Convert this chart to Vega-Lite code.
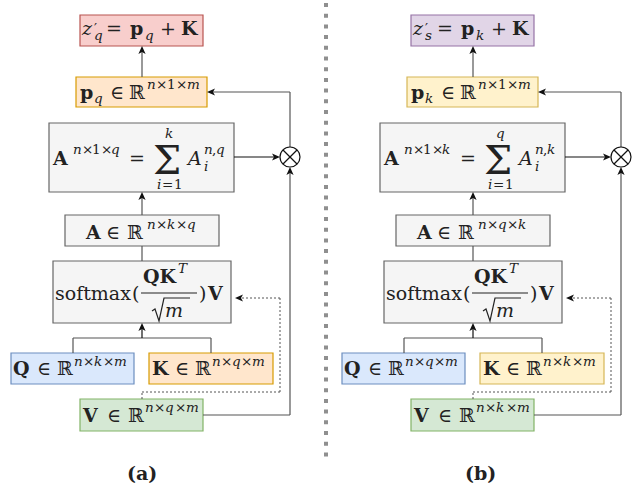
{
  "$schema": "https://vega.github.io/schema/vega-lite/v6.json",
  "width": 639,
  "height": 491,
  "padding": 0,
  "autosize": {"type": "fit", "contains": "padding"},
  "background": "white",
  "config": {"view": {"stroke": null}},
  "datasets": {
    "boxes": [
      {"x": 80, "x2": 203, "y": 15, "y2": 46, "c": "red"},
      {"x": 76, "x2": 207, "y": 77, "y2": 107, "c": "orange"},
      {"x": 49, "x2": 234, "y": 123, "y2": 192, "c": "gray"},
      {"x": 65, "x2": 219, "y": 215, "y2": 246, "c": "gray"},
      {"x": 53, "x2": 231, "y": 261, "y2": 323, "c": "gray"},
      {"x": 11, "x2": 134, "y": 353, "y2": 384, "c": "blue"},
      {"x": 149, "x2": 273, "y": 353, "y2": 384, "c": "orange"},
      {"x": 80, "x2": 203, "y": 399, "y2": 431, "c": "green"},
      {"x": 411, "x2": 534, "y": 15, "y2": 46, "c": "purple"},
      {"x": 407, "x2": 538, "y": 77, "y2": 107, "c": "yellow"},
      {"x": 380, "x2": 565, "y": 123, "y2": 192, "c": "gray"},
      {"x": 396, "x2": 550, "y": 215, "y2": 246, "c": "gray"},
      {"x": 384, "x2": 562, "y": 261, "y2": 323, "c": "gray"},
      {"x": 342, "x2": 465, "y": 353, "y2": 384, "c": "blue"},
      {"x": 480, "x2": 604, "y": 353, "y2": 384, "c": "yellow"},
      {"x": 411, "x2": 534, "y": 399, "y2": 431, "c": "green"}
    ],
    "segs": [
      {"x": 326, "y": 3, "x2": 326, "y2": 461, "g": "sep", "tone": "sep"},
      {"x": 142, "y": 77, "x2": 142, "y2": 48, "g": "a", "tone": "line"},
      {"x": 142, "y": 215, "x2": 142, "y2": 194, "g": "a", "tone": "line"},
      {"x": 142, "y": 246, "x2": 142, "y2": 261, "g": "a", "tone": "line"},
      {"x": 73, "y": 353, "x2": 73, "y2": 338, "g": "a", "tone": "line"},
      {"x": 73, "y": 338, "x2": 211, "y2": 338, "g": "a", "tone": "line"},
      {"x": 211, "y": 338, "x2": 211, "y2": 353, "g": "a", "tone": "line"},
      {"x": 142, "y": 338, "x2": 142, "y2": 325, "g": "a", "tone": "blk"},
      {"x": 234, "y": 157, "x2": 278, "y2": 157, "g": "a", "tone": "blk"},
      {"x": 290, "y": 147, "x2": 290, "y2": 92, "g": "a", "tone": "line"},
      {"x": 290, "y": 92, "x2": 209, "y2": 92, "g": "a", "tone": "line"},
      {"x": 203, "y": 415, "x2": 290, "y2": 415, "g": "a", "tone": "line"},
      {"x": 290, "y": 415, "x2": 290, "y2": 169, "g": "a", "tone": "line"},
      {"x": 142, "y": 399, "x2": 142, "y2": 392, "g": "d", "tone": "line"},
      {"x": 142, "y": 392, "x2": 280, "y2": 392, "g": "d", "tone": "line"},
      {"x": 280, "y": 392, "x2": 280, "y2": 298, "g": "d", "tone": "line"},
      {"x": 280, "y": 298, "x2": 237, "y2": 298, "g": "d", "tone": "line"},
      {"x": 283, "y": 150, "x2": 297, "y2": 164, "g": "c", "tone": "blk"},
      {"x": 297, "y": 150, "x2": 283, "y2": 164, "g": "c", "tone": "blk"},
      {"x": 141, "y": 293, "x2": 197, "y2": 293, "g": "c", "tone": "txt"},
      {"x": 473, "y": 77, "x2": 473, "y2": 48, "g": "a", "tone": "line"},
      {"x": 473, "y": 215, "x2": 473, "y2": 194, "g": "a", "tone": "line"},
      {"x": 473, "y": 246, "x2": 473, "y2": 261, "g": "a", "tone": "line"},
      {"x": 404, "y": 353, "x2": 404, "y2": 338, "g": "a", "tone": "line"},
      {"x": 404, "y": 338, "x2": 542, "y2": 338, "g": "a", "tone": "line"},
      {"x": 542, "y": 338, "x2": 542, "y2": 353, "g": "a", "tone": "line"},
      {"x": 473, "y": 338, "x2": 473, "y2": 325, "g": "a", "tone": "blk"},
      {"x": 565, "y": 157, "x2": 609, "y2": 157, "g": "a", "tone": "blk"},
      {"x": 621, "y": 147, "x2": 621, "y2": 92, "g": "a", "tone": "line"},
      {"x": 621, "y": 92, "x2": 540, "y2": 92, "g": "a", "tone": "line"},
      {"x": 534, "y": 415, "x2": 621, "y2": 415, "g": "a", "tone": "line"},
      {"x": 621, "y": 415, "x2": 621, "y2": 169, "g": "a", "tone": "line"},
      {"x": 473, "y": 399, "x2": 473, "y2": 392, "g": "d", "tone": "line"},
      {"x": 473, "y": 392, "x2": 611, "y2": 392, "g": "d", "tone": "line"},
      {"x": 611, "y": 392, "x2": 611, "y2": 298, "g": "d", "tone": "line"},
      {"x": 611, "y": 298, "x2": 568, "y2": 298, "g": "d", "tone": "line"},
      {"x": 614, "y": 150, "x2": 628, "y2": 164, "g": "c", "tone": "blk"},
      {"x": 628, "y": 150, "x2": 614, "y2": 164, "g": "c", "tone": "blk"},
      {"x": 472, "y": 293, "x2": 528, "y2": 293, "g": "c", "tone": "txt"}
    ],
    "roots": [
      {"id": "L", "o": 1, "x": 152, "y": 311},
      {"id": "L", "o": 2, "x": 155, "y": 309},
      {"id": "L", "o": 3, "x": 159, "y": 321},
      {"id": "L", "o": 4, "x": 164, "y": 298},
      {"id": "L", "o": 5, "x": 190, "y": 298},
      {"id": "R", "o": 1, "x": 483, "y": 311},
      {"id": "R", "o": 2, "x": 486, "y": 309},
      {"id": "R", "o": 3, "x": 490, "y": 321},
      {"id": "R", "o": 4, "x": 495, "y": 298},
      {"id": "R", "o": 5, "x": 521, "y": 298}
    ],
    "rings": [
      {"x": 290, "y": 157},
      {"x": 621, "y": 157}
    ],
    "heads": [
      {"x": 142, "y": 46, "dir": "up"},
      {"x": 142, "y": 192, "dir": "up"},
      {"x": 142, "y": 323, "dir": "up"},
      {"x": 280, "y": 157, "dir": "right"},
      {"x": 207, "y": 92, "dir": "left"},
      {"x": 290, "y": 167, "dir": "up"},
      {"x": 235, "y": 298, "dir": "left"},
      {"x": 473, "y": 46, "dir": "up"},
      {"x": 473, "y": 192, "dir": "up"},
      {"x": 473, "y": 323, "dir": "up"},
      {"x": 611, "y": 157, "dir": "right"},
      {"x": 538, "y": 92, "dir": "left"},
      {"x": 621, "y": 167, "dir": "up"},
      {"x": 566, "y": 298, "dir": "left"}
    ],
    "tx": [
      {"t": "z", "x": 82, "y": 35, "k": "v", "l": "m"},
      {"t": "′", "x": 94, "y": 33, "k": "s", "l": "u"},
      {"t": "q", "x": 94, "y": 40, "k": "v", "l": "u"},
      {"t": "=", "x": 106, "y": 35, "k": "s", "l": "m"},
      {"t": "p", "x": 130, "y": 35, "k": "b", "l": "m"},
      {"t": "q", "x": 145, "y": 40, "k": "v", "l": "u"},
      {"t": "+", "x": 160, "y": 35, "k": "s", "l": "m"},
      {"t": "K", "x": 181, "y": 35, "k": "b", "l": "m"},

      {"t": "p", "x": 80, "y": 99, "k": "b", "l": "m"},
      {"t": "q", "x": 94, "y": 103, "k": "v", "l": "u"},
      {"t": "∈", "x": 110, "y": 99, "k": "s", "l": "m"},
      {"t": "ℝ", "x": 129, "y": 99, "k": "s", "l": "m"},
      {"t": "n", "x": 147, "y": 89, "k": "v", "l": "u"},
      {"t": "×", "x": 156, "y": 89, "k": "s", "l": "u"},
      {"t": "1", "x": 167, "y": 89, "k": "s", "l": "u"},
      {"t": "×", "x": 176, "y": 89, "k": "s", "l": "u"},
      {"t": "m", "x": 187, "y": 89, "k": "v", "l": "u"},

      {"t": "A", "x": 53, "y": 165, "k": "b", "l": "m"},
      {"t": "n", "x": 73, "y": 154, "k": "v", "l": "u"},
      {"t": "×", "x": 82, "y": 154, "k": "s", "l": "u"},
      {"t": "1", "x": 92, "y": 154, "k": "s", "l": "u"},
      {"t": "×", "x": 101, "y": 154, "k": "s", "l": "u"},
      {"t": "q", "x": 111, "y": 154, "k": "v", "l": "u"},
      {"t": "=", "x": 129, "y": 165, "k": "s", "l": "m"},
      {"t": "Σ", "x": 153, "y": 174, "k": "s", "l": "g"},
      {"t": "k", "x": 165, "y": 138, "k": "v", "l": "u"},
      {"t": "i", "x": 157, "y": 189, "k": "v", "l": "u"},
      {"t": "=", "x": 162, "y": 189, "k": "s", "l": "u"},
      {"t": "1", "x": 174, "y": 189, "k": "s", "l": "u"},
      {"t": "A", "x": 188, "y": 165, "k": "v", "l": "m"},
      {"t": "n", "x": 204, "y": 154, "k": "v", "l": "u"},
      {"t": ",", "x": 212, "y": 154, "k": "s", "l": "u"},
      {"t": "q", "x": 216, "y": 154, "k": "v", "l": "u"},
      {"t": "i", "x": 204, "y": 171, "k": "v", "l": "u"},

      {"t": "A", "x": 86, "y": 239, "k": "b", "l": "m"},
      {"t": "∈", "x": 106, "y": 239, "k": "s", "l": "m"},
      {"t": "ℝ", "x": 127, "y": 239, "k": "s", "l": "m"},
      {"t": "n", "x": 147, "y": 229, "k": "v", "l": "u"},
      {"t": "×", "x": 156, "y": 229, "k": "s", "l": "u"},
      {"t": "k", "x": 167, "y": 229, "k": "v", "l": "u"},
      {"t": "×", "x": 176, "y": 229, "k": "s", "l": "u"},
      {"t": "q", "x": 187, "y": 229, "k": "v", "l": "u"},

      {"t": "softmax", "x": 55, "y": 300, "k": "s", "l": "m"},
      {"t": "(", "x": 132, "y": 300, "k": "s", "l": "m"},
      {"t": "QK", "x": 143, "y": 283, "k": "b", "l": "m"},
      {"t": "T", "x": 178, "y": 273, "k": "v", "l": "u"},
      {"t": "m", "x": 165, "y": 317, "k": "v", "l": "m"},
      {"t": ")", "x": 199, "y": 300, "k": "s", "l": "m"},
      {"t": "V", "x": 208, "y": 300, "k": "b", "l": "m"},

      {"t": "Q", "x": 13, "y": 375, "k": "b", "l": "m"},
      {"t": "∈", "x": 37, "y": 375, "k": "s", "l": "m"},
      {"t": "ℝ", "x": 57, "y": 375, "k": "s", "l": "m"},
      {"t": "n", "x": 74, "y": 366, "k": "v", "l": "u"},
      {"t": "×", "x": 83, "y": 366, "k": "s", "l": "u"},
      {"t": "k", "x": 94, "y": 366, "k": "v", "l": "u"},
      {"t": "×", "x": 103, "y": 366, "k": "s", "l": "u"},
      {"t": "m", "x": 114, "y": 366, "k": "v", "l": "u"},

      {"t": "K", "x": 152, "y": 375, "k": "b", "l": "m"},
      {"t": "∈", "x": 175, "y": 375, "k": "s", "l": "m"},
      {"t": "ℝ", "x": 195, "y": 375, "k": "s", "l": "m"},
      {"t": "n", "x": 212, "y": 366, "k": "v", "l": "u"},
      {"t": "×", "x": 221, "y": 366, "k": "s", "l": "u"},
      {"t": "q", "x": 232, "y": 366, "k": "v", "l": "u"},
      {"t": "×", "x": 241, "y": 366, "k": "s", "l": "u"},
      {"t": "m", "x": 252, "y": 366, "k": "v", "l": "u"},

      {"t": "V", "x": 83, "y": 422, "k": "b", "l": "m"},
      {"t": "∈", "x": 107, "y": 422, "k": "s", "l": "m"},
      {"t": "ℝ", "x": 128, "y": 422, "k": "s", "l": "m"},
      {"t": "n", "x": 145, "y": 412, "k": "v", "l": "u"},
      {"t": "×", "x": 154, "y": 412, "k": "s", "l": "u"},
      {"t": "q", "x": 165, "y": 412, "k": "v", "l": "u"},
      {"t": "×", "x": 175, "y": 412, "k": "s", "l": "u"},
      {"t": "m", "x": 186, "y": 412, "k": "v", "l": "u"},

      {"t": "(a)", "x": 127, "y": 480, "k": "b", "l": "m"},

      {"t": "z", "x": 413, "y": 35, "k": "v", "l": "m"},
      {"t": "′", "x": 425, "y": 33, "k": "s", "l": "u"},
      {"t": "s", "x": 425, "y": 40, "k": "v", "l": "u"},
      {"t": "=", "x": 437, "y": 35, "k": "s", "l": "m"},
      {"t": "p", "x": 461, "y": 35, "k": "b", "l": "m"},
      {"t": "k", "x": 476, "y": 40, "k": "v", "l": "u"},
      {"t": "+", "x": 491, "y": 35, "k": "s", "l": "m"},
      {"t": "K", "x": 512, "y": 35, "k": "b", "l": "m"},

      {"t": "p", "x": 411, "y": 99, "k": "b", "l": "m"},
      {"t": "k", "x": 425, "y": 103, "k": "v", "l": "u"},
      {"t": "∈", "x": 441, "y": 99, "k": "s", "l": "m"},
      {"t": "ℝ", "x": 460, "y": 99, "k": "s", "l": "m"},
      {"t": "n", "x": 478, "y": 89, "k": "v", "l": "u"},
      {"t": "×", "x": 487, "y": 89, "k": "s", "l": "u"},
      {"t": "1", "x": 498, "y": 89, "k": "s", "l": "u"},
      {"t": "×", "x": 507, "y": 89, "k": "s", "l": "u"},
      {"t": "m", "x": 518, "y": 89, "k": "v", "l": "u"},

      {"t": "A", "x": 384, "y": 165, "k": "b", "l": "m"},
      {"t": "n", "x": 404, "y": 154, "k": "v", "l": "u"},
      {"t": "×", "x": 413, "y": 154, "k": "s", "l": "u"},
      {"t": "1", "x": 423, "y": 154, "k": "s", "l": "u"},
      {"t": "×", "x": 432, "y": 154, "k": "s", "l": "u"},
      {"t": "k", "x": 442, "y": 154, "k": "v", "l": "u"},
      {"t": "=", "x": 460, "y": 165, "k": "s", "l": "m"},
      {"t": "Σ", "x": 484, "y": 174, "k": "s", "l": "g"},
      {"t": "q", "x": 496, "y": 138, "k": "v", "l": "u"},
      {"t": "i", "x": 488, "y": 189, "k": "v", "l": "u"},
      {"t": "=", "x": 493, "y": 189, "k": "s", "l": "u"},
      {"t": "1", "x": 505, "y": 189, "k": "s", "l": "u"},
      {"t": "A", "x": 519, "y": 165, "k": "v", "l": "m"},
      {"t": "n", "x": 535, "y": 154, "k": "v", "l": "u"},
      {"t": ",", "x": 543, "y": 154, "k": "s", "l": "u"},
      {"t": "k", "x": 547, "y": 154, "k": "v", "l": "u"},
      {"t": "i", "x": 535, "y": 171, "k": "v", "l": "u"},

      {"t": "A", "x": 417, "y": 239, "k": "b", "l": "m"},
      {"t": "∈", "x": 437, "y": 239, "k": "s", "l": "m"},
      {"t": "ℝ", "x": 458, "y": 239, "k": "s", "l": "m"},
      {"t": "n", "x": 478, "y": 229, "k": "v", "l": "u"},
      {"t": "×", "x": 487, "y": 229, "k": "s", "l": "u"},
      {"t": "q", "x": 498, "y": 229, "k": "v", "l": "u"},
      {"t": "×", "x": 507, "y": 229, "k": "s", "l": "u"},
      {"t": "k", "x": 518, "y": 229, "k": "v", "l": "u"},

      {"t": "softmax", "x": 386, "y": 300, "k": "s", "l": "m"},
      {"t": "(", "x": 463, "y": 300, "k": "s", "l": "m"},
      {"t": "QK", "x": 474, "y": 283, "k": "b", "l": "m"},
      {"t": "T", "x": 509, "y": 273, "k": "v", "l": "u"},
      {"t": "m", "x": 496, "y": 317, "k": "v", "l": "m"},
      {"t": ")", "x": 530, "y": 300, "k": "s", "l": "m"},
      {"t": "V", "x": 539, "y": 300, "k": "b", "l": "m"},

      {"t": "Q", "x": 344, "y": 375, "k": "b", "l": "m"},
      {"t": "∈", "x": 368, "y": 375, "k": "s", "l": "m"},
      {"t": "ℝ", "x": 388, "y": 375, "k": "s", "l": "m"},
      {"t": "n", "x": 405, "y": 366, "k": "v", "l": "u"},
      {"t": "×", "x": 414, "y": 366, "k": "s", "l": "u"},
      {"t": "q", "x": 425, "y": 366, "k": "v", "l": "u"},
      {"t": "×", "x": 434, "y": 366, "k": "s", "l": "u"},
      {"t": "m", "x": 445, "y": 366, "k": "v", "l": "u"},

      {"t": "K", "x": 483, "y": 375, "k": "b", "l": "m"},
      {"t": "∈", "x": 506, "y": 375, "k": "s", "l": "m"},
      {"t": "ℝ", "x": 526, "y": 375, "k": "s", "l": "m"},
      {"t": "n", "x": 543, "y": 366, "k": "v", "l": "u"},
      {"t": "×", "x": 552, "y": 366, "k": "s", "l": "u"},
      {"t": "k", "x": 563, "y": 366, "k": "v", "l": "u"},
      {"t": "×", "x": 572, "y": 366, "k": "s", "l": "u"},
      {"t": "m", "x": 583, "y": 366, "k": "v", "l": "u"},

      {"t": "V", "x": 414, "y": 422, "k": "b", "l": "m"},
      {"t": "∈", "x": 438, "y": 422, "k": "s", "l": "m"},
      {"t": "ℝ", "x": 459, "y": 422, "k": "s", "l": "m"},
      {"t": "n", "x": 476, "y": 412, "k": "v", "l": "u"},
      {"t": "×", "x": 485, "y": 412, "k": "s", "l": "u"},
      {"t": "k", "x": 496, "y": 412, "k": "v", "l": "u"},
      {"t": "×", "x": 506, "y": 412, "k": "s", "l": "u"},
      {"t": "m", "x": 517, "y": 412, "k": "v", "l": "u"},

      {"t": "(b)", "x": 465, "y": 480, "k": "b", "l": "m"}
    ]
  },
  "layer": [
    {
      "data": {"name": "boxes"},
      "mark": {"type": "rect", "strokeWidth": 1.2},
      "encoding": {
        "x": {"field": "x", "type": "quantitative", "scale": {"domain": [0, 639], "nice": false, "zero": false}, "axis": null},
        "x2": {"field": "x2"},
        "y": {"field": "y", "type": "quantitative", "scale": {"domain": [0, 491], "nice": false, "zero": false, "reverse": true}, "axis": null},
        "y2": {"field": "y2"},
        "fill": {"field": "c", "type": "nominal", "legend": null,
          "scale": {"domain": ["red", "orange", "gray", "blue", "green", "purple", "yellow"],
                    "range": ["#f8cecc", "#ffe6cc", "#f5f5f5", "#dae8fc", "#d5e8d4", "#e1d5e7", "#fff2cc"]}},
        "stroke": {"field": "c", "type": "nominal", "legend": null,
          "scale": {"domain": ["red", "orange", "gray", "blue", "green", "purple", "yellow"],
                    "range": ["#b85450", "#d79b00", "#666666", "#6c8ebf", "#82b366", "#9673a6", "#d6b656"]}}
      }
    },
    {
      "data": {"name": "segs"},
      "transform": [{"filter": "datum.g === 'sep'"}],
      "mark": {"type": "rule", "strokeWidth": 4, "strokeDash": [4, 6.7]},
      "encoding": {
        "x": {"field": "x", "type": "quantitative"},
        "y": {"field": "y", "type": "quantitative"},
        "x2": {"field": "x2"},
        "y2": {"field": "y2"},
        "color": {"field": "tone", "type": "nominal", "legend": null,
          "scale": {"domain": ["line", "blk", "txt", "sep"], "range": ["#555555", "#111111", "#222222", "#8f8f8f"]}}
      }
    },
    {
      "data": {"name": "segs"},
      "transform": [{"filter": "datum.g === 'a'"}],
      "mark": {"type": "rule", "strokeWidth": 1.2},
      "encoding": {
        "x": {"field": "x", "type": "quantitative"},
        "y": {"field": "y", "type": "quantitative"},
        "x2": {"field": "x2"},
        "y2": {"field": "y2"},
        "color": {"field": "tone", "type": "nominal", "legend": null,
          "scale": {"domain": ["line", "blk", "txt", "sep"], "range": ["#555555", "#111111", "#222222", "#8f8f8f"]}}
      }
    },
    {
      "data": {"name": "segs"},
      "transform": [{"filter": "datum.g === 'd'"}],
      "mark": {"type": "rule", "strokeWidth": 1, "strokeDash": [2, 2]},
      "encoding": {
        "x": {"field": "x", "type": "quantitative"},
        "y": {"field": "y", "type": "quantitative"},
        "x2": {"field": "x2"},
        "y2": {"field": "y2"},
        "color": {"field": "tone", "type": "nominal", "legend": null,
          "scale": {"domain": ["line", "blk", "txt", "sep"], "range": ["#555555", "#111111", "#222222", "#8f8f8f"]}}
      }
    },
    {
      "data": {"name": "rings"},
      "mark": {"type": "point", "shape": "circle", "size": 400, "filled": true, "fill": "white", "stroke": "#111111", "strokeWidth": 1.2, "opacity": 1},
      "encoding": {
        "x": {"field": "x", "type": "quantitative"},
        "y": {"field": "y", "type": "quantitative"}
      }
    },
    {
      "data": {"name": "segs"},
      "transform": [{"filter": "datum.g === 'c'"}],
      "mark": {"type": "rule", "strokeWidth": 1.2},
      "encoding": {
        "x": {"field": "x", "type": "quantitative"},
        "y": {"field": "y", "type": "quantitative"},
        "x2": {"field": "x2"},
        "y2": {"field": "y2"},
        "color": {"field": "tone", "type": "nominal", "legend": null,
          "scale": {"domain": ["line", "blk", "txt", "sep"], "range": ["#555555", "#111111", "#222222", "#8f8f8f"]}}
      }
    },
    {
      "data": {"name": "roots"},
      "mark": {"type": "line", "color": "#222222", "strokeWidth": 1.2, "strokeJoin": "miter"},
      "encoding": {
        "x": {"field": "x", "type": "quantitative"},
        "y": {"field": "y", "type": "quantitative"},
        "order": {"field": "o", "type": "quantitative"},
        "detail": {"field": "id", "type": "nominal"}
      }
    },
    {
      "data": {"name": "heads"},
      "mark": {"type": "point", "size": 64, "filled": true, "color": "#111111", "strokeWidth": 0, "opacity": 1},
      "encoding": {
        "x": {"field": "x", "type": "quantitative"},
        "y": {"field": "y", "type": "quantitative"},
        "shape": {"field": "dir", "type": "nominal", "legend": null,
          "scale": {"domain": ["up", "left", "right"],
                    "range": ["M0,0L-0.9,2L0,1.5L0.9,2Z", "M0,0L2,-0.9L1.5,0L2,0.9Z", "M0,0L-2,-0.9L-1.5,0L-2,0.9Z"]}}
      }
    },
    {
      "data": {"name": "tx"},
      "transform": [{"filter": "datum.k === 's'"}],
      "mark": {"type": "text", "font": "DejaVu Serif", "align": "left", "baseline": "alphabetic", "color": "#222222"},
      "encoding": {
        "x": {"field": "x", "type": "quantitative"},
        "y": {"field": "y", "type": "quantitative"},
        "text": {"field": "t"},
        "size": {"field": "l", "type": "nominal", "legend": null,
          "scale": {"type": "ordinal", "domain": ["m", "u", "g"], "range": [19, 13.5, 40]}}
      }
    },
    {
      "data": {"name": "tx"},
      "transform": [{"filter": "datum.k === 'v'"}],
      "mark": {"type": "text", "font": "DejaVu Serif", "fontStyle": "italic", "align": "left", "baseline": "alphabetic", "color": "#222222"},
      "encoding": {
        "x": {"field": "x", "type": "quantitative"},
        "y": {"field": "y", "type": "quantitative"},
        "text": {"field": "t"},
        "size": {"field": "l", "type": "nominal", "legend": null,
          "scale": {"type": "ordinal", "domain": ["m", "u", "g"], "range": [19, 13.5, 40]}}
      }
    },
    {
      "data": {"name": "tx"},
      "transform": [{"filter": "datum.k === 'b'"}],
      "mark": {"type": "text", "font": "DejaVu Serif", "fontWeight": "bold", "align": "left", "baseline": "alphabetic", "color": "#222222"},
      "encoding": {
        "x": {"field": "x", "type": "quantitative"},
        "y": {"field": "y", "type": "quantitative"},
        "text": {"field": "t"},
        "size": {"field": "l", "type": "nominal", "legend": null,
          "scale": {"type": "ordinal", "domain": ["m", "u", "g"], "range": [19, 13.5, 40]}}
      }
    }
  ]
}
